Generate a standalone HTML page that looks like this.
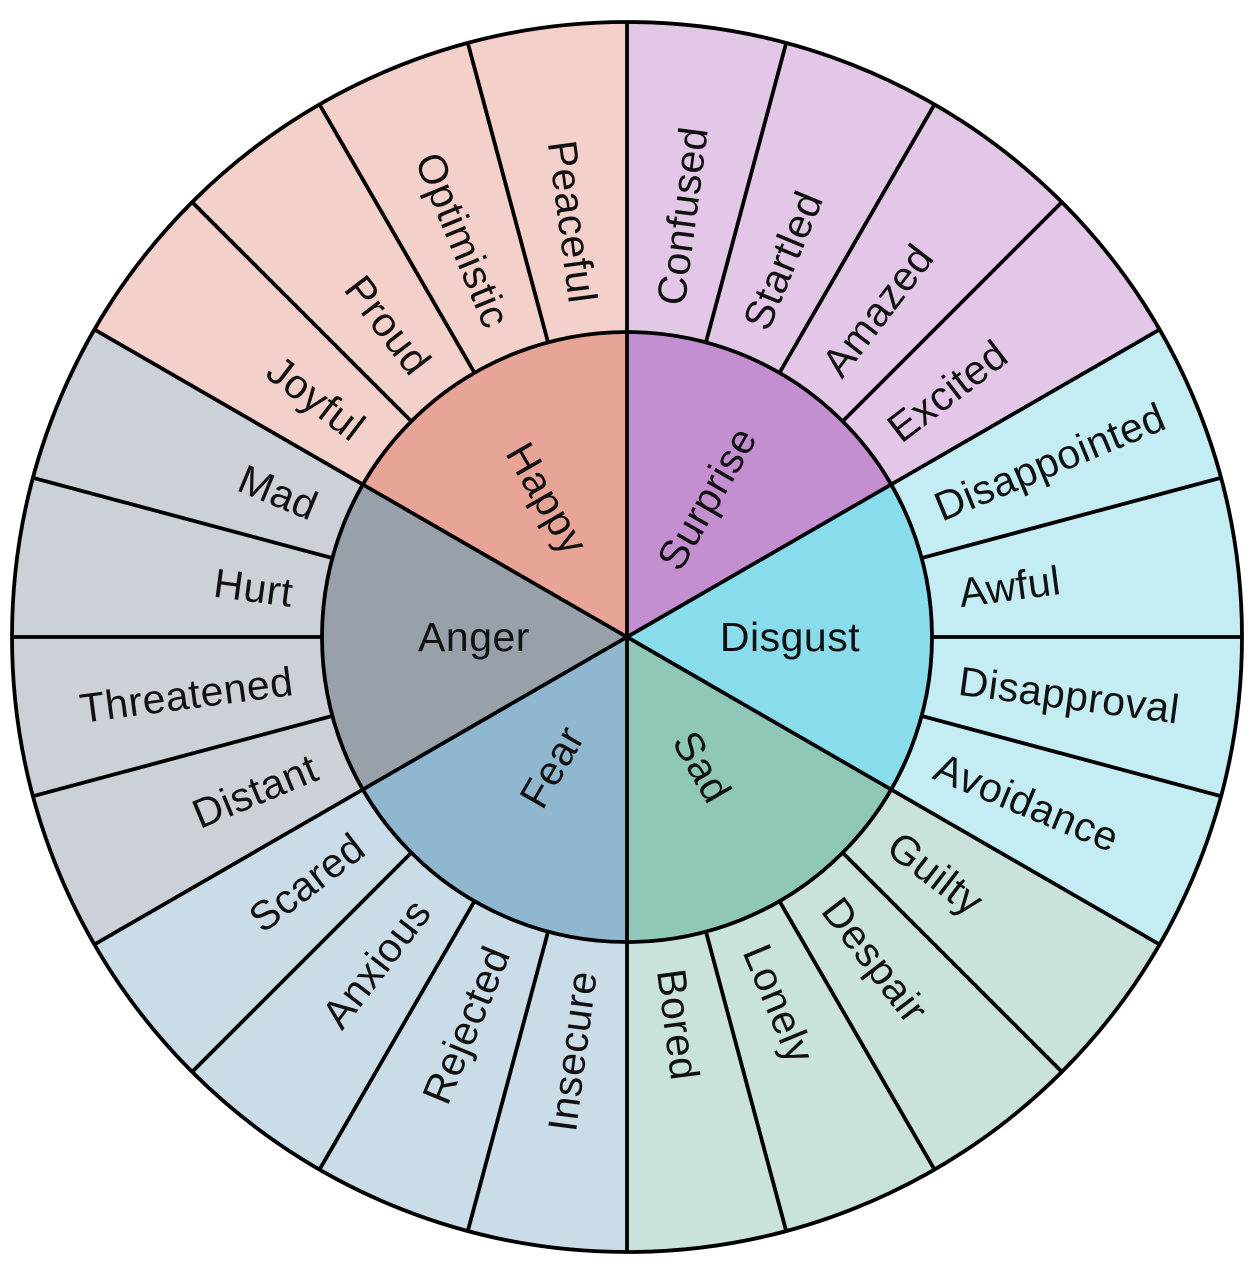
<!DOCTYPE html>
<html><head><meta charset="utf-8"><style>
html,body{margin:0;padding:0;background:#fff;}
svg{display:block;}
text{font-family:"Liberation Sans",sans-serif;font-size:41px;letter-spacing:0.5px;fill:#111;dominant-baseline:central;}
</style></head><body>
<svg width="1258" height="1274" viewBox="0 0 1258 1274" xmlns="http://www.w3.org/2000/svg">
<g stroke="none">
<path d="M627,637 L627,22 A615,615 0 0 0 94.4,329.5 Z" fill="#f4d0ca"/>
<path d="M627,637 L1159.6,329.5 A615,615 0 0 0 627,22 Z" fill="#e2c8e6"/>
<path d="M627,637 L1159.6,944.5 A615,615 0 0 0 1159.6,329.5 Z" fill="#c4ecf3"/>
<path d="M627,637 L627,1252 A615,615 0 0 0 1159.6,944.5 Z" fill="#c9e3dc"/>
<path d="M627,637 L94.4,944.5 A615,615 0 0 0 627,1252 Z" fill="#c9dce7"/>
<path d="M627,637 L94.4,329.5 A615,615 0 0 0 94.4,944.5 Z" fill="#ccd0d7"/>
<path d="M627,637 L627,332 A305,305 0 0 0 362.9,484.5 Z" fill="#e8a496"/>
<path d="M627,637 L891.1,484.5 A305,305 0 0 0 627,332 Z" fill="#c48fd0"/>
<path d="M627,637 L891.1,789.5 A305,305 0 0 0 891.1,484.5 Z" fill="#88dcec"/>
<path d="M627,637 L627,942 A305,305 0 0 0 891.1,789.5 Z" fill="#8fc8b8"/>
<path d="M627,637 L362.9,789.5 A305,305 0 0 0 627,942 Z" fill="#8fb8d0"/>
<path d="M627,637 L362.9,484.5 A305,305 0 0 0 362.9,789.5 Z" fill="#98a0aa"/>
</g>
<g transform="translate(627,637)" stroke="#000" stroke-width="3.8" fill="none">
<circle r="615"/><circle r="305"/>
<line x1="0" y1="0" x2="305" y2="0" transform="rotate(30)"/>
<line x1="0" y1="0" x2="305" y2="0" transform="rotate(90)"/>
<line x1="0" y1="0" x2="305" y2="0" transform="rotate(150)"/>
<line x1="0" y1="0" x2="305" y2="0" transform="rotate(210)"/>
<line x1="0" y1="0" x2="305" y2="0" transform="rotate(270)"/>
<line x1="0" y1="0" x2="305" y2="0" transform="rotate(330)"/>
<line x1="305" x2="615" transform="rotate(0)"/><line x1="305" x2="615" transform="rotate(15)"/>
<line x1="305" x2="615" transform="rotate(30)"/><line x1="305" x2="615" transform="rotate(45)"/>
<line x1="305" x2="615" transform="rotate(60)"/><line x1="305" x2="615" transform="rotate(75)"/>
<line x1="305" x2="615" transform="rotate(90)"/><line x1="305" x2="615" transform="rotate(105)"/>
<line x1="305" x2="615" transform="rotate(120)"/><line x1="305" x2="615" transform="rotate(135)"/>
<line x1="305" x2="615" transform="rotate(150)"/><line x1="305" x2="615" transform="rotate(165)"/>
<line x1="305" x2="615" transform="rotate(180)"/><line x1="305" x2="615" transform="rotate(195)"/>
<line x1="305" x2="615" transform="rotate(210)"/><line x1="305" x2="615" transform="rotate(225)"/>
<line x1="305" x2="615" transform="rotate(240)"/><line x1="305" x2="615" transform="rotate(255)"/>
<line x1="305" x2="615" transform="rotate(270)"/><line x1="305" x2="615" transform="rotate(285)"/>
<line x1="305" x2="615" transform="rotate(300)"/><line x1="305" x2="615" transform="rotate(315)"/>
<line x1="305" x2="615" transform="rotate(330)"/><line x1="305" x2="615" transform="rotate(345)"/>
</g>
<g transform="translate(627,637)">
<g text-anchor="start">
<text x="335" transform="rotate(-82.5)">Confused</text>
<text x="335" transform="rotate(-67.5)">Startled</text>
<text x="335" transform="rotate(-52.5)">Amazed</text>
<text x="335" transform="rotate(-37.5)">Excited</text>
<text x="335" transform="rotate(-22.5)">Disappointed</text>
<text x="335" transform="rotate(-7.5)">Awful</text>
<text x="335" transform="rotate(7.5)">Disapproval</text>
<text x="335" transform="rotate(22.5)">Avoidance</text>
<text x="335" transform="rotate(37.5)">Guilty</text>
<text x="335" transform="rotate(52.5)">Despair</text>
<text x="335" transform="rotate(67.5)">Lonely</text>
<text x="335" transform="rotate(82.5)">Bored</text>
</g>
<g text-anchor="end">
<text x="-337" transform="rotate(82.5)">Peaceful</text>
<text x="-337" transform="rotate(67.5)">Optimistic</text>
<text x="-337" transform="rotate(52.5)">Proud</text>
<text x="-337" transform="rotate(37.5)">Joyful</text>
<text x="-337" transform="rotate(22.5)">Mad</text>
<text x="-337" transform="rotate(7.5)">Hurt</text>
<text x="-337" transform="rotate(-7.5)">Threatened</text>
<text x="-337" transform="rotate(-22.5)">Distant</text>
<text x="-337" transform="rotate(-37.5)">Scared</text>
<text x="-337" transform="rotate(-52.5)">Anxious</text>
<text x="-337" transform="rotate(-67.5)">Rejected</text>
<text x="-337" transform="rotate(-82.5)">Insecure</text>
</g>
<g text-anchor="middle">
<text x="160" transform="rotate(-60)">Surprise</text>
<text x="163" transform="rotate(0)">Disgust</text>
<text x="150" transform="rotate(60)">Sad</text>
<text x="-160" transform="rotate(60)">Happy</text>
<text x="-153" transform="rotate(0)">Anger</text>
<text x="-150" transform="rotate(-60)">Fear</text>
</g>
</g>
</svg>
</body></html>
